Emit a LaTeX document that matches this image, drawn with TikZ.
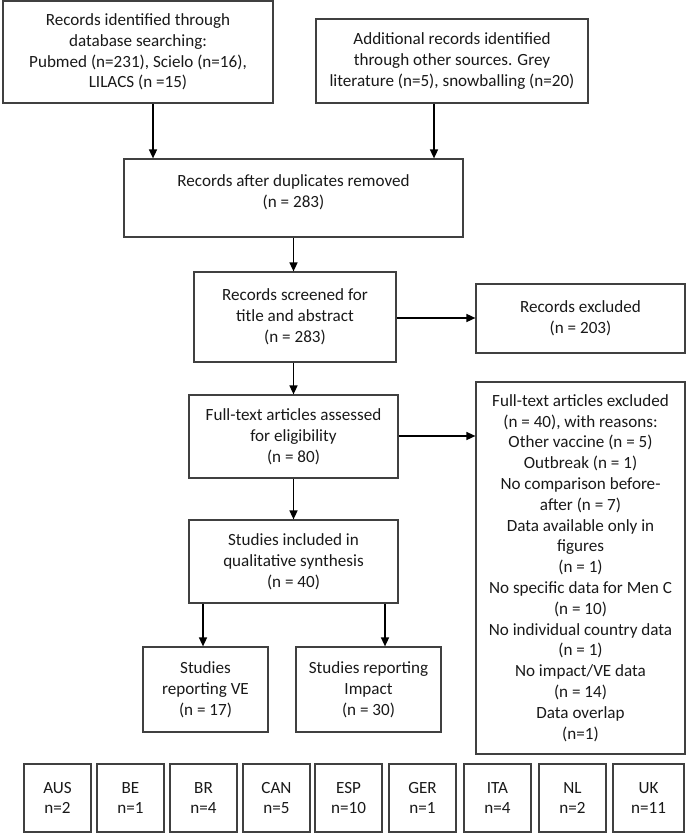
\documentclass[tikz,border=0pt]{standalone}
\usepackage{fontspec}
\setmainfont{Carlito}
\usetikzlibrary{arrows.meta}
\begin{document}
\begin{tikzpicture}[x=1pt,y=-1pt,
  box/.style={draw=black!75, line width=1.2pt, inner sep=0pt, align=center,
    font=\fontsize{17.1}{20.8}\selectfont, text=black!90},
  arr/.style={draw=black, line width=1.5pt, -{Triangle[length=9pt,width=8pt]}}]
\useasboundingbox (0,0) rectangle (685,834);
\node[box, minimum width=270, minimum height=102] (A) at (138,52)
  {Records identified through\\database searching:\\Pubmed (n=231), Scielo (n=16),\\LILACS (n =15)};
\node[box, minimum width=272, minimum height=84] (B) at (452,61)
  {Additional records identified\\through other sources. Grey\\literature (n=5), snowballing (n=20)};
\node[box, minimum width=339, minimum height=78] (C) at (293.5,198) {};
\node[box, draw=none] (Ct) at (293.5,192.5) {Records after duplicates removed\\(n = 283)};
\node[box, minimum width=202, minimum height=90] (D) at (295,317)
  {Records screened for\\title and abstract\\(n = 283)};
\node[box, minimum width=209, minimum height=69] (E) at (580.5,318.5)
  {Records excluded\\(n = 203)};
\node[box, minimum width=209, minimum height=83] (F) at (293.5,436.5)
  {Full-text articles assessed\\for eligibility\\(n = 80)};
\node[box, minimum width=209, minimum height=372] (G) at (580.5,568)
  {Full-text articles excluded\\(n = 40), with reasons:\\Other vaccine (n = 5)\\Outbreak (n = 1)\\No comparison before-\\after (n = 7)\\Data available only in\\figures\\(n = 1)\\No specific data for Men C\\(n = 10)\\No individual country data\\(n = 1)\\No impact/VE data\\(n = 14)\\Data overlap\\(n=1)};
\node[box, minimum width=209, minimum height=83] (H) at (293.5,561.5)
  {Studies included in\\qualitative synthesis\\(n = 40)};
\node[box, minimum width=125, minimum height=85] (I) at (205.5,689.5)
  {Studies\\reporting VE\\(n = 17)};
\node[box, minimum width=145, minimum height=85] (J) at (368.5,689.5)
  {Studies reporting\\Impact\\(n = 30)};
\foreach \nm/\lx/\w/\txt in {aus/24/67/{AUS\\n=2}, be/97/67/{BE\\n=1}, br/170/67/{BR\\n=4},
  can/243/67/{CAN\\n=5}, esp/315/67/{ESP\\n=10}, ger/389/67/{GER\\n=1},
  ita/464/67/{ITA\\n=4}, nl/539/67/{NL\\n=2}, uk/613/71/{UK\\n=11}}
  \node[box, minimum width=\w, minimum height=68] (\nm) at ({\lx+\w/2},798) {\txt};
\draw[arr] ([xshift=15]A.south) -- ([xshift=15]A.south |- C.north);
\draw[arr] ([xshift=-18]B.south) -- ([xshift=-18]B.south |- C.north);
\draw[arr] (C.south) -- (C.south |- D.north);
\draw[arr] ([yshift=0.5]E.west -| D.east) -- ([yshift=0.5]E.west);
\draw[arr] (F.north |- D.south) -- (F.north);
\draw[arr] ([yshift=0.5]F.east) -- ([yshift=0.5]F.east -| G.west);
\draw[arr] (F.south) -- (H.north);
\draw[arr] ([xshift=-2.5]I.north |- H.south) -- ([xshift=-2.5]I.north);
\draw[arr] ([xshift=16.5]J.north |- H.south) -- ([xshift=16.5]J.north);
\end{tikzpicture}
\end{document}
